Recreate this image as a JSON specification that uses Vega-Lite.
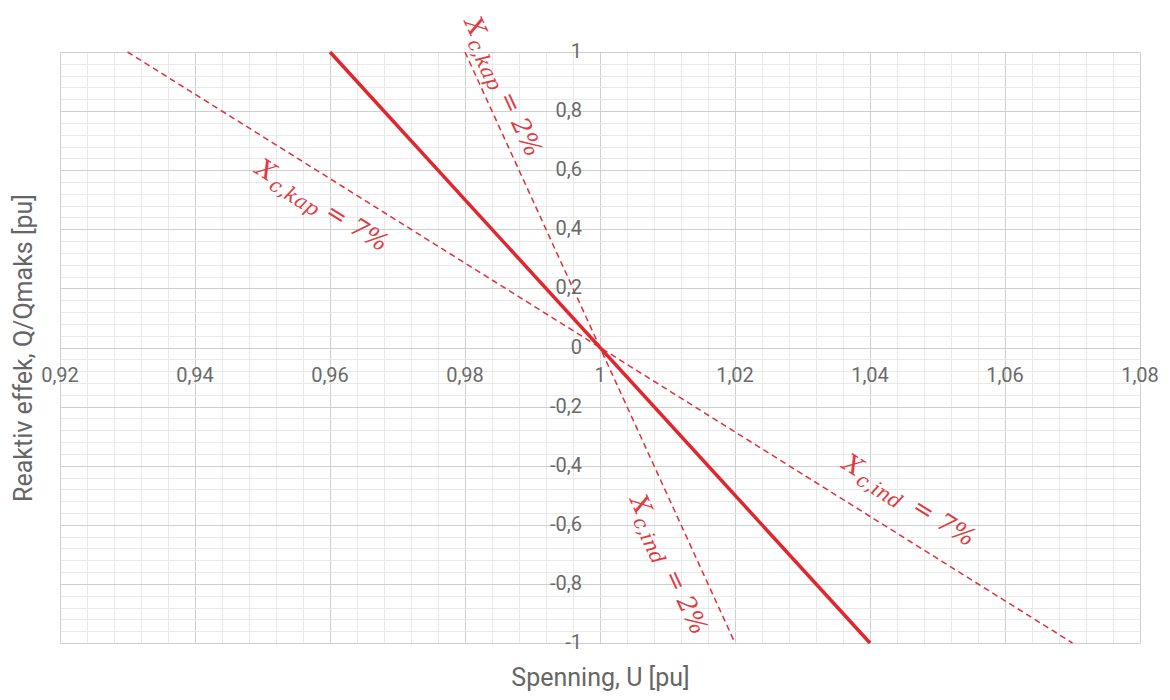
{
  "$schema": "https://vega.github.io/schema/vega-lite/v6.json",
  "width": 1080,
  "height": 591,
  "autosize": "none",
  "padding": {"left": 60, "top": 52, "right": 30, "bottom": 57},
  "background": "white",
  "config": {"view": {"stroke": null}},
  "datasets": {
    "lines": [
      {"id": "solid", "style": "solid", "u": 0.96, "q": 1},
      {"id": "solid", "style": "solid", "u": 1.04, "q": -1},
      {"id": "x7", "style": "dash", "u": 0.93, "q": 1},
      {"id": "x7", "style": "dash", "u": 1.07, "q": -1},
      {"id": "x2", "style": "dash", "u": 0.98, "q": 1},
      {"id": "x2", "style": "dash", "u": 1.02, "q": -1}
    ],
    "xticks": [
      {"v": 0.92, "t": "0,92"}, {"v": 0.94, "t": "0,94"}, {"v": 0.96, "t": "0,96"},
      {"v": 0.98, "t": "0,98"}, {"v": 1, "t": "1"}, {"v": 1.02, "t": "1,02"},
      {"v": 1.04, "t": "1,04"}, {"v": 1.06, "t": "1,06"}, {"v": 1.08, "t": "1,08"}
    ],
    "yticks": [
      {"v": 1, "t": "1"}, {"v": 0.8, "t": "0,8"}, {"v": 0.6, "t": "0,6"},
      {"v": 0.4, "t": "0,4"}, {"v": 0.2, "t": "0,2"}, {"v": 0, "t": "0"},
      {"v": -0.2, "t": "-0,2"}, {"v": -0.4, "t": "-0,4"}, {"v": -0.6, "t": "-0,6"},
      {"v": -0.8, "t": "-0,8"}, {"v": -1, "t": "-1"}
    ],
    "labels": [
      {"grp": "2", "u": 0.97985, "q": 1.1015, "sub": "c,kap", "rest": " = 2%"},
      {"grp": "2", "u": 1.00436, "q": -0.516, "sub": "c,ind", "rest": " = 2%"},
      {"grp": "7", "u": 0.94874, "q": 0.592, "sub": "c,kap", "rest": " = 7%"},
      {"grp": "7", "u": 1.0357, "q": -0.406, "sub": "c,ind", "rest": " = 7%"}
    ]
  },
  "layer": [
    {
      "data": {"name": "lines"},
      "transform": [{"filter": "datum.style == 'dash'"}],
      "mark": {"type": "line", "color": "#e0303a", "strokeWidth": 1.5, "strokeDash": [6, 4]},
      "encoding": {
        "x": {
          "field": "u", "type": "quantitative",
          "scale": {"domain": [0.92, 1.08], "nice": false, "zero": false},
          "axis": {
            "values": [0.92,0.924,0.928,0.932,0.936,0.94,0.944,0.948,0.952,0.956,0.96,0.964,0.968,0.972,0.976,0.98,0.984,0.988,0.992,0.996,1,1.004,1.008,1.012,1.016,1.02,1.024,1.028,1.032,1.036,1.04,1.044,1.048,1.052,1.056,1.06,1.064,1.068,1.072,1.076,1.08],
            "tickCount": 500,
            "labels": false, "ticks": false, "domain": false, "grid": true,
            "gridColor": {"condition": {"test": "abs(datum.value*50 - round(datum.value*50)) < 0.001", "value": "#cfcfcf"}, "value": "#e9e9e9"},
            "gridWidth": 1,
            "title": "Spenning, U [pu]",
            "titleFont": "Roboto", "titleFontSize": 25, "titleFontWeight": "normal",
            "titleColor": "#666666", "titlePadding": 22
          }
        },
        "y": {
          "field": "q", "type": "quantitative",
          "scale": {"domain": [-1, 1], "nice": false, "zero": false},
          "axis": {
            "values": [-1,-0.96,-0.92,-0.88,-0.84,-0.8,-0.76,-0.72,-0.68,-0.64,-0.6,-0.56,-0.52,-0.48,-0.44,-0.4,-0.36,-0.32,-0.28,-0.24,-0.2,-0.16,-0.12,-0.08,-0.04,0,0.04,0.08,0.12,0.16,0.2,0.24,0.28,0.32,0.36,0.4,0.44,0.48,0.52,0.56,0.6,0.64,0.68,0.72,0.76,0.8,0.84,0.88,0.92,0.96,1],
            "tickCount": 500,
            "labels": false, "ticks": false, "domain": false, "grid": true,
            "gridColor": {"condition": {"test": "abs(datum.value*5 - round(datum.value*5)) < 0.001", "value": "#cfcfcf"}, "value": "#e9e9e9"},
            "gridWidth": 1,
            "title": "Reaktiv effek, Q/Qmaks [pu]",
            "titleFont": "Roboto", "titleFontSize": 25, "titleFontWeight": "normal",
            "titleColor": "#666666", "titlePadding": 24
          }
        },
        "detail": {"field": "id"}
      }
    },
    {
      "data": {"name": "lines"},
      "transform": [{"filter": "datum.style == 'solid'"}],
      "mark": {"type": "line", "color": "#e0262f", "strokeWidth": 3.5},
      "encoding": {
        "x": {"field": "u", "type": "quantitative"},
        "y": {"field": "q", "type": "quantitative"},
        "detail": {"field": "id"}
      }
    },
    {
      "data": {"name": "xticks"},
      "mark": {"type": "text", "align": "center", "baseline": "middle", "dy": 28, "font": "Roboto", "fontSize": 20, "color": "#6a6a6a"},
      "encoding": {
        "x": {"field": "v", "type": "quantitative"},
        "y": {"datum": 0, "type": "quantitative"},
        "text": {"field": "t"}
      }
    },
    {
      "data": {"name": "yticks"},
      "mark": {"type": "text", "align": "right", "baseline": "middle", "dx": -18, "font": "Roboto", "fontSize": 20, "color": "#6a6a6a"},
      "encoding": {
        "x": {"datum": 1, "type": "quantitative"},
        "y": {"field": "v", "type": "quantitative"},
        "text": {"field": "t"}
      }
    },
    {
      "data": {"name": "labels"},
      "transform": [{"filter": "datum.grp == '2'"}],
      "mark": {"type": "text", "align": "left", "baseline": "alphabetic", "angle": 65, "font": "DejaVu Serif", "fontStyle": "italic", "fontSize": 25, "color": "#e03c44"},
      "encoding": {"x": {"field": "u", "type": "quantitative"}, "y": {"field": "q", "type": "quantitative"}, "text": {"value": "X"}}
    },
    {
      "data": {"name": "labels"},
      "transform": [{"filter": "datum.grp == '2'"}],
      "mark": {"type": "text", "align": "left", "baseline": "alphabetic", "angle": 65, "dx": 20, "dy": 6, "font": "DejaVu Serif", "fontStyle": "italic", "fontSize": 20, "color": "#e03c44"},
      "encoding": {"x": {"field": "u", "type": "quantitative"}, "y": {"field": "q", "type": "quantitative"}, "text": {"field": "sub"}}
    },
    {
      "data": {"name": "labels"},
      "transform": [{"filter": "datum.grp == '2'"}],
      "mark": {"type": "text", "align": "left", "baseline": "alphabetic", "angle": 65, "dx": 82, "font": "DejaVu Serif", "fontStyle": "italic", "fontSize": 25, "color": "#e03c44"},
      "encoding": {"x": {"field": "u", "type": "quantitative"}, "y": {"field": "q", "type": "quantitative"}, "text": {"field": "rest"}}
    },
    {
      "data": {"name": "labels"},
      "transform": [{"filter": "datum.grp == '7'"}],
      "mark": {"type": "text", "align": "left", "baseline": "alphabetic", "angle": 32, "font": "DejaVu Serif", "fontStyle": "italic", "fontSize": 25, "color": "#e03c44"},
      "encoding": {"x": {"field": "u", "type": "quantitative"}, "y": {"field": "q", "type": "quantitative"}, "text": {"value": "X"}}
    },
    {
      "data": {"name": "labels"},
      "transform": [{"filter": "datum.grp == '7'"}],
      "mark": {"type": "text", "align": "left", "baseline": "alphabetic", "angle": 32, "dx": 20, "dy": 6, "font": "DejaVu Serif", "fontStyle": "italic", "fontSize": 20, "color": "#e03c44"},
      "encoding": {"x": {"field": "u", "type": "quantitative"}, "y": {"field": "q", "type": "quantitative"}, "text": {"field": "sub"}}
    },
    {
      "data": {"name": "labels"},
      "transform": [{"filter": "datum.grp == '7'"}],
      "mark": {"type": "text", "align": "left", "baseline": "alphabetic", "angle": 32, "dx": 82, "font": "DejaVu Serif", "fontStyle": "italic", "fontSize": 25, "color": "#e03c44"},
      "encoding": {"x": {"field": "u", "type": "quantitative"}, "y": {"field": "q", "type": "quantitative"}, "text": {"field": "rest"}}
    }
  ]
}
